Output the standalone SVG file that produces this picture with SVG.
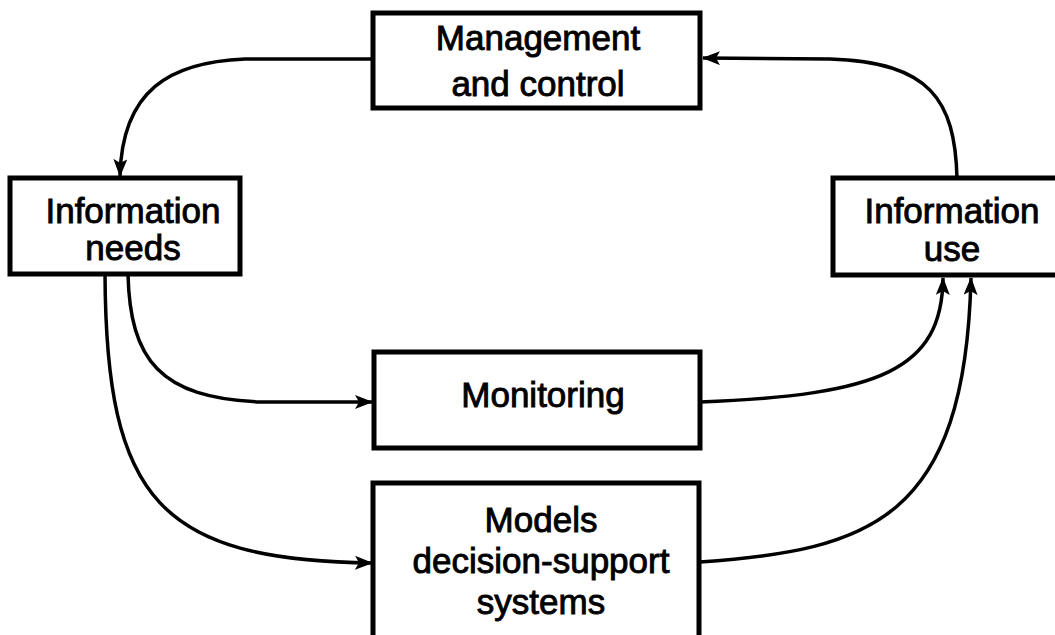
<svg xmlns="http://www.w3.org/2000/svg" width="1055" height="635" viewBox="0 0 1055 635">
<style>
.box{fill:#fff;stroke:#000;stroke-width:5}
.lbl{font-family:"Liberation Sans",Arial,sans-serif;font-size:35px;fill:#000;stroke:#000;stroke-width:0.9;text-anchor:middle}
.conn{fill:none;stroke:#000;stroke-width:3.5}
</style>
<defs>
<marker id="arr" viewBox="0 0 18 14" refX="17" refY="7" markerWidth="18" markerHeight="14" markerUnits="userSpaceOnUse" orient="auto">
<path d="M0,0 L18,7 L0,14 L4,7 Z" fill="#000"/>
</marker>
</defs>
<rect width="1055" height="635" fill="#fff"/>
<g id="connectors">
<path class="conn" d="M372,59 L245,59 C170,62 122,90 120,176" marker-end="url(#arr)"/>
<path class="conn" d="M957,178 C955,100 930,62 830,59 L703,58" marker-end="url(#arr)"/>
<path class="conn" d="M128,274 C130,360 160,398 260,402 L372,402" marker-end="url(#arr)"/>
<path class="conn" d="M105,274 C106,500 160,560 372,563" marker-end="url(#arr)"/>
<path class="conn" d="M700,402 C880,395 942,370 943,278" marker-end="url(#arr)"/>
<path class="conn" d="M700,562 C870,550 965,520 971,278" marker-end="url(#arr)"/>
</g>
<g id="management">
<rect class="box" x="373" y="13" width="327" height="95"/>
<text class="lbl" x="538" y="50">Management</text>
<text class="lbl" x="538" y="96">and control</text>
</g>
<g id="info-needs">
<rect class="box" x="10" y="178" width="230" height="96"/>
<text class="lbl" x="133" y="223">Information</text>
<text class="lbl" x="133" y="260">needs</text>
</g>
<g id="info-use">
<rect class="box" x="833" y="178" width="240" height="97"/>
<text class="lbl" x="952" y="223">Information</text>
<text class="lbl" x="952" y="261">use</text>
</g>
<g id="monitoring">
<rect class="box" x="374" y="352" width="326" height="96"/>
<text class="lbl" x="543" y="407">Monitoring</text>
</g>
<g id="models">
<rect class="box" x="373" y="483" width="326" height="170"/>
<text class="lbl" x="541" y="532">Models</text>
<text class="lbl" x="541" y="573">decision-support</text>
<text class="lbl" x="541" y="614">systems</text>
</g>
</svg>
